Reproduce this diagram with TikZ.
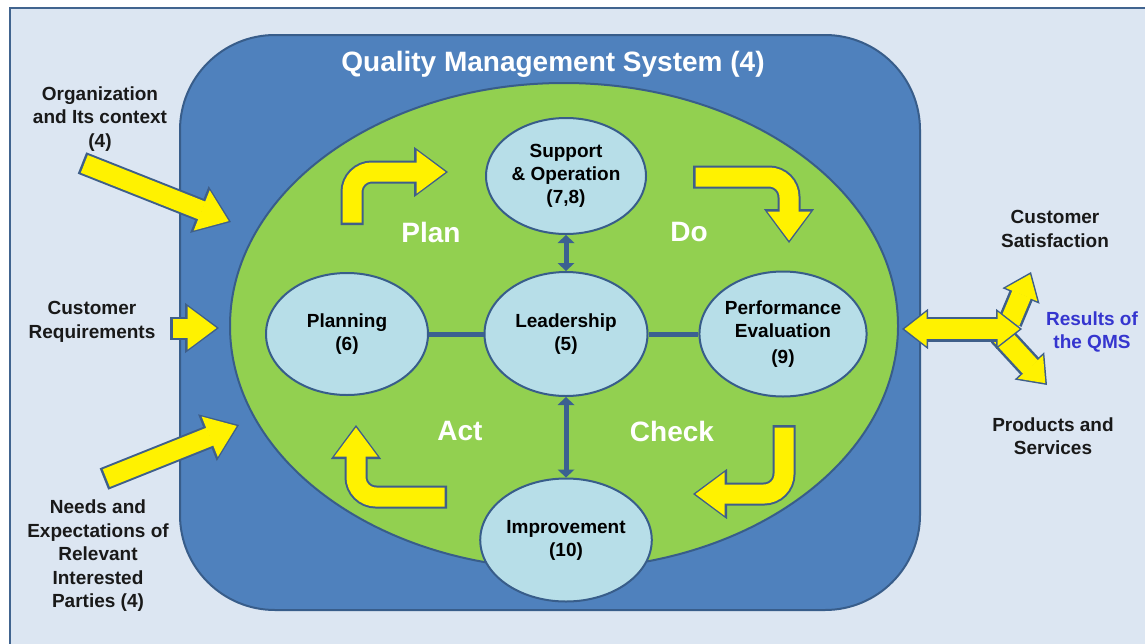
\documentclass[tikz,border=0pt]{standalone}
\usepackage{fontspec}
\setmainfont{Liberation Sans}
\usetikzlibrary{shapes.geometric}
\usetikzlibrary{arrows.meta}

\definecolor{paneBg}{HTML}{DCE6F2}
\definecolor{paneLine}{HTML}{41648F}
\definecolor{qmsBlue}{HTML}{4F81BD}
\definecolor{qmsEdge}{HTML}{385D8A}
\definecolor{qmsGreen}{HTML}{92D050}
\definecolor{stageFill}{HTML}{B7DEE8}
\definecolor{linkBlue}{HTML}{3B6191}
\definecolor{arrowBorder}{HTML}{3F5F8A}
\definecolor{resultBlue}{HTML}{3535CF}

\begin{document}
\begin{tikzpicture}
[x=1pt,y=-1pt,%
  stage/.style={shape=ellipse,draw=qmsEdge,line width=2pt,fill=stageFill,inner sep=1pt,align=center,font=\fontsize{19}{23}\selectfont\bfseries},%
  outside/.style={align=center,text=black!90,font=\fontsize{19}{23.5}\selectfont\bfseries},%
  cycleWord/.style={text=white,font=\fontsize{28}{32}\selectfont\bfseries},%
  link/.style={-,draw=linkBlue,line width=5pt},%
  twoWay/.style={{Triangle[length=8pt,width=17pt,line width=0pt]}-{Triangle[length=8pt,width=17pt,line width=0pt]}}]
\useasboundingbox (0,0) rectangle (1145,643);
%% frame and system
\fill[white] (0,0) rectangle (1145,643);
\draw[draw=paneLine,line width=2pt,fill=paneBg] (10,8) rectangle (1170,670);
\node[draw=qmsEdge,line width=2pt,fill=qmsBlue,rounded corners=95pt,
  minimum width=740pt,minimum height=575pt] (qmsBox) at (550,322.5) {};
\node[shape=ellipse,draw=qmsEdge,line width=2pt,fill=qmsGreen,
  minimum width=668pt,minimum height=486pt] (qmsCore) at (564,326) {};
\node[cycleWord] (title) at (553,64) {Quality Management System (4)};
%% stages
\node[stage,minimum width=160pt,minimum height=116pt] (support) at (566,176) {Support\\\& Operation\\(7,8)};
\node[stage,minimum width=163pt,minimum height=124pt] (leader) at (566,334) {Leadership\\(5)};
\node[stage,minimum width=162pt,minimum height=122pt] (planning) at (347,334) {Planning\\(6)};
\node[stage,minimum width=160pt,minimum height=125pt] (perform) at (783,334) {Performance\\Evaluation\\[3pt](9)};
\node[stage,minimum width=162pt,minimum height=123pt] (improve) at (566,540) {Improvement\\(10)};
\draw[link] (planning) -- (leader);
\draw[link] (leader) -- (perform);
\draw[link,twoWay] (support) -- (leader);
\draw[link,twoWay] (leader) -- (improve);
%% cycle words
\node[cycleWord] (plan) at (431,232) {Plan};
\node[cycleWord] (do) at (689,232) {Do};
\node[cycleWord] (act) at (460,431) {Act};
\node[cycleWord] (check) at (672,431) {Check};
%% outside labels
\node[outside] (context) at (100,119) {Organization\\and Its context\\(4)};
\node[outside] (needs) at (92,322) {Customer\\Requirements};
\node[outside] (parties) at (98,556) {Needs and\\Expectations of\\Relevant\\Interested\\Parties (4)};
\node[outside] (satisfy) at (1055,229) {Customer\\Satisfaction};
\node[outside] (products) at (1053,436) {Products and\\Services};
\node[outside,text=resultBlue] (results) at (1092,332) {Results of\\the QMS};
%% arrow ends
\coordinate (contextTail) at (82,163);   \coordinate (contextTip) at (231,222);
\coordinate (needsTail) at (170,328);    \coordinate (needsTip) at (219,328);
\coordinate (partiesTail) at (104,479);  \coordinate (partiesTip) at (239,425);
\coordinate (planTail) at (352,225);     \coordinate (planTip) at (448,172);
\coordinate (doTail) at (693,177);       \coordinate (doTip) at (789,243);
\coordinate (checkTail) at (784,425);    \coordinate (checkTip) at (693,494);
\coordinate (actTail) at (447,497);      \coordinate (actTip) at (356,425);
\coordinate (outLeft) at (902,329);      \coordinate (outRight) at (1022,329);
\coordinate (upTail) at (1010,322);      \coordinate (upTip) at (1031,272);
\coordinate (downTail) at (1000,334);    \coordinate (downTip) at (1047,385);
%% yellow arrows, border first then fill
\def\layers{23/34/50/arrowBorder/0, 19/29/43/yellow/2.5}
\foreach \lw/\hl/\hw/\col/\gap in \layers
{
  \draw[line width=\lw pt,draw=\col,shorten >=\gap pt,shorten <=\gap pt,
    -{Triangle[length=\hl pt,width=\hw pt,line width=1.5pt]}] (contextTail) -- (contextTip);
  \draw[line width=\lw pt,draw=\col,shorten >=\gap pt,shorten <=\gap pt,
    -{Triangle[length=\hl pt,width=\hw pt,line width=1.5pt]}] (needsTail) -- (needsTip);
  \draw[line width=\lw pt,draw=\col,shorten >=\gap pt,shorten <=\gap pt,
    -{Triangle[length=\hl pt,width=\hw pt,line width=1.5pt]}] (partiesTail) -- (partiesTip);
  \draw[line width=\lw pt,draw=\col,shorten >=\gap pt,shorten <=\gap pt,rounded corners=20pt,
    -{Triangle[length=\hl pt,width=\hw pt,line width=1.5pt]}] (planTail) |- (planTip);
  \draw[line width=\lw pt,draw=\col,shorten >=\gap pt,shorten <=\gap pt,rounded corners=20pt,
    -{Triangle[length=\hl pt,width=\hw pt,line width=1.5pt]}] (doTail) -| (doTip);
  \draw[line width=\lw pt,draw=\col,shorten >=\gap pt,shorten <=\gap pt,rounded corners=20pt,
    -{Triangle[length=\hl pt,width=\hw pt,line width=1.5pt]}] (checkTail) |- (checkTip);
  \draw[line width=\lw pt,draw=\col,shorten >=\gap pt,shorten <=\gap pt,rounded corners=20pt,
    -{Triangle[length=\hl pt,width=\hw pt,line width=1.5pt]}] (actTail) -| (actTip);
}
%% results of the QMS
\def\small{25/26/40/arrowBorder/0, 20/22/34/yellow/2.5}
\foreach \lw/\hl/\hw/\col/\gap in \small
  \draw[line width=\lw pt,draw=\col,shorten >=\gap pt,
    -{Triangle[length=\hl pt,width=\hw pt,line width=1.5pt]}] (upTail) -- (upTip);
\foreach \lw/\hl/\hw/\col/\gap in \small
  \draw[line width=\lw pt,draw=\col,shorten >=\gap pt,
    -{Triangle[length=\hl pt,width=\hw pt,line width=1.5pt]}] (downTail) -- (downTip);
\foreach \lw/\hl/\hw/\col/\gap in \small
  \draw[line width=\lw pt,draw=\col,shorten >=\gap pt,shorten <=\gap pt,
    {Triangle[length=\hl pt,width=\hw pt,line width=1.5pt]}-{Triangle[length=\hl pt,width=\hw pt,line width=1.5pt]}] (outLeft) -- (outRight);
\end{tikzpicture}
\end{document}
